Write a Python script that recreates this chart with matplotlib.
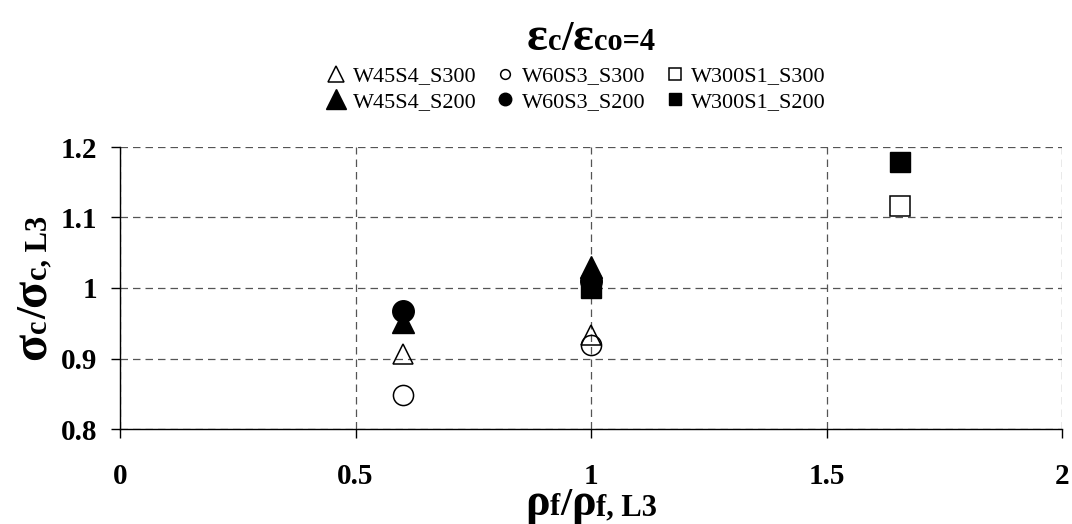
import matplotlib
matplotlib.use("Agg")
import matplotlib.pyplot as plt
from matplotlib.lines import Line2D
from matplotlib.font_manager import FontProperties

SERIF = "Liberation Serif"

# Normalised reinforcement ratio (x) and normalised stress (y) per specimen group
w45_s300_x = [0.6, 1.0]
w45_s300_y = [0.907, 0.933]
w60_s300_x = [0.6, 1.0]
w60_s300_y = [0.848, 0.919]
w300_s300_x = [1.657]
w300_s300_y = [1.116]

w45_s200_x = [0.6, 1.0]
w45_s200_y = [0.952, 1.030]
w60_s200_x = [0.6, 1.0]
w60_s200_y = [0.967, 1.010]
w300_s200_x = [1.0, 1.657]
w300_s200_y = [1.000, 1.179]

x_ticks = [0, 0.5, 1, 1.5, 2]
x_tick_labels = ["0", "0.5", "1", "1.5", "2"]
y_ticks = [0.8, 0.9, 1.0, 1.1, 1.2]
y_tick_labels = ["0.8", "0.9", "1", "1.1", "1.2"]

W, H = 1072, 524
fig = plt.figure(figsize=(W / 100, H / 100), dpi=100)
ax = fig.add_axes([120 / W, 1 - 429 / H, 942 / W, 282 / H])

open_kw = dict(linestyle="none", markerfacecolor="none", markeredgecolor="black",
               markeredgewidth=1.1)
fill_kw = dict(linestyle="none", color="black")

ax.plot(w45_s300_x, w45_s300_y, marker="^", markersize=15, **open_kw)
ax.plot(w60_s300_x, w60_s300_y, marker="o", markersize=14.5, **open_kw)
ax.plot(w300_s300_x, w300_s300_y, marker="s", markersize=14.5, **open_kw)
ax.plot(w60_s200_x, w60_s200_y, marker="o", markersize=15.5, **fill_kw)
ax.plot(w45_s200_x, w45_s200_y, marker="^", markersize=16, **fill_kw)
ax.plot(w300_s200_x, w300_s200_y, marker="s", markersize=15, **fill_kw)

ax.set_xlim(0, 2)
ax.set_ylim(0.8, 1.2)
ax.set_xticks(x_ticks)
ax.set_xticklabels(x_tick_labels)
ax.set_yticks(y_ticks)
ax.set_yticklabels(y_tick_labels)
ax.set_axisbelow(True)
ax.grid(True, color="#555555", linestyle=(0, (6, 4)), linewidth=0.9)
for side in ("top", "right"):
    ax.spines[side].set_visible(False)
for side in ("left", "bottom"):
    ax.spines[side].set_linewidth(1.0)
ax.tick_params(direction="out", length=6.5, width=1.0)
ax.tick_params(axis="x", pad=18)
ax.tick_params(axis="y", pad=10)
for lab in ax.get_xticklabels() + ax.get_yticklabels():
    lab.set_fontfamily(SERIF)
    lab.set_fontweight("bold")
    lab.set_fontsize(21)

# Legend: hollow markers on the first row, solid markers on the second
handles = [
    Line2D([], [], marker="^", markersize=12, **open_kw),
    Line2D([], [], marker="^", markersize=14, **fill_kw),
    Line2D([], [], marker="o", markersize=7, **open_kw),
    Line2D([], [], marker="o", markersize=9, **fill_kw),
    Line2D([], [], marker="s", markersize=9, **open_kw),
    Line2D([], [], marker="s", markersize=9, **fill_kw),
]
labels = ["W45S4_S300", "W45S4_S200", "W60S3_S300", "W60S3_S200",
          "W300S1_S300", "W300S1_S200"]
fig.legend(handles, labels, ncol=3, loc="center", bbox_to_anchor=(576 / W, 1 - 89 / H),
           frameon=False, prop=FontProperties(family=SERIF, size=16),
           handlelength=0.9, handletextpad=0.3, columnspacing=0.85,
           labelspacing=0.22, borderpad=0)


def rich_text(x, y_top, pieces, rotation=0):
    """Place text pieces of mixed sizes end to end, centred on (x, y_top) in pixels."""
    renderer = fig.canvas.get_renderer()
    arts, widths = [], []
    for s, size in pieces:
        t = fig.text(0, 0, s, fontsize=size, fontfamily=SERIF, fontweight="bold",
                     ha="left", va="baseline")
        widths.append(t.get_window_extent(renderer).width)
        arts.append(t)
    pos = -sum(widths) / 2
    fy = H - y_top
    for t, w in zip(arts, widths):
        if rotation == 90:
            t.set_position((x / W, (fy + pos) / H))
            t.set_rotation(90)
            t.set_rotation_mode("anchor")
        else:
            t.set_position(((x + pos) / W, fy / H))
        pos += w


rich_text(591, 50, [("ε", 35), ("c", 22), ("/", 30), ("ε", 35), ("co=4", 22)])
rich_text(591, 515, [("ρ", 33), ("f", 22), ("/", 29), ("ρ", 33), ("f, L3", 22)])
rich_text(46, 288, [("σ", 36), ("c", 22), ("/", 31), ("σ", 36), ("c, L3", 22)], rotation=90)

fig.savefig("out.png", dpi=100)
